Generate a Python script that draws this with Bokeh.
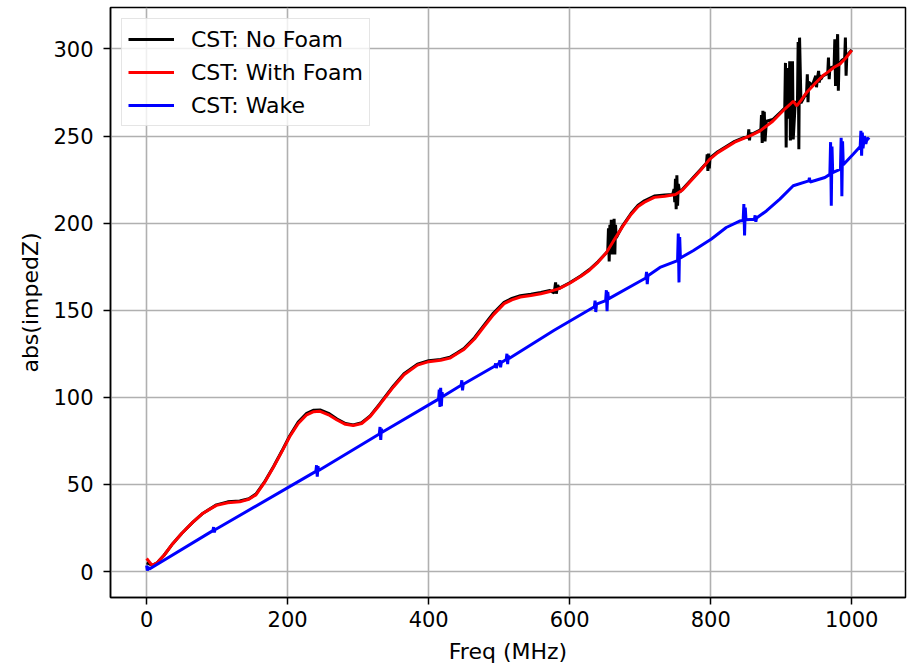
from bokeh.plotting import figure
from bokeh.models import Range1d, FixedTicker
from bokeh.embed import file_html
from bokeh.resources import INLINE

# ---------------- data ----------------
# CST: With Foam
foam_f = [0, 3, 8, 15, 25, 37, 50, 66, 80, 99, 115, 132, 145, 155, 167, 180, 192, 203,
          215, 227, 237, 246, 258, 270, 282, 293, 305, 317, 330, 350, 365, 384, 400, 417,
          430, 440, 450, 465, 478, 492, 507, 518, 530, 545, 559, 572, 585, 600, 616, 628,
          640, 652, 664, 675, 687, 697, 706, 720, 735, 750, 760, 772, 786, 798, 810, 822,
          834, 846, 858, 870, 888, 905, 912, 917, 922, 928, 936, 950, 959, 967, 975, 983,
          991, 1000]
foam_v = [7.5, 6, 3.5, 5, 9.5, 16, 22, 28.5, 33.5, 38, 39.5, 40, 41.5, 44, 51, 60, 69, 77.5,
          85, 90, 91.8, 92, 90, 87, 84.5, 83.8, 85, 89, 95.5, 106, 113, 118.5, 120.5, 121.3,
          122.5, 125, 127.5, 133.5, 140.4, 147.5, 153.8, 156, 157.6, 158.5, 159.5, 160.8, 162.4,
          165.5, 169.5, 173, 177.5, 183, 191, 198, 205, 209.5, 212, 214.8, 215.5, 216.5, 219,
          224.4, 230.5, 236.5, 240.5, 243.5, 246.5, 248.5, 250.5, 253, 258.5, 265.5, 268, 270,
          267.3, 270.5, 275, 281, 284.6, 287, 289.5, 291.3, 294.5, 299.2]

# CST: No Foam (same smooth trend, with resonance spikes) - rows of 10
nofoam_f = [0, 3, 8, 15, 25, 37, 50, 66, 80, 99,
            115, 132, 145, 155, 167, 180, 192, 203, 215, 227,
            237, 246, 258, 270, 282, 293, 305, 317, 330, 350,
            365, 384, 400, 417, 430, 440, 450, 465, 478, 492,
            507, 518, 530, 545, 559, 572, 578, 580, 581, 583,
            585, 600, 616, 628, 640, 652, 654, 655, 656, 657,
            658, 659, 660, 661, 662, 663, 664, 665, 666, 668,
            675, 687, 697, 706, 720, 735, 746, 748, 749, 750,
            751, 752, 753, 754, 756, 760, 772, 786, 794, 795,
            796, 797, 798, 799, 810, 822, 834, 846, 853, 854,
            855, 856, 858, 870, 871, 872, 873, 874, 875, 876,
            877, 879, 888, 900, 905, 906, 907, 908, 911, 912,
            913, 915, 916, 917, 920, 923, 924, 925, 926, 928,
            936, 937, 938, 939, 944, 949, 950, 951, 953, 954,
            955, 956, 959, 966, 967, 968, 969, 975, 976, 977,
            978, 980, 981, 982, 983, 986, 990, 991, 992, 993,
            996, 1000]
nofoam_v = [5, 4.5, 3.5, 5, 9.5, 16, 22, 28.5, 33.5, 38.3,
            40, 40.5, 41.8, 44.5, 51.3, 60.3, 69.3, 78, 85.8, 90.8,
            92.6, 92.8, 90.8, 87.6, 85, 84.2, 85.4, 89.4, 96, 106.5,
            113.6, 119, 121, 121.8, 123, 125.4, 128, 134.2, 141.2, 148.4,
            154.6, 156.8, 158.3, 159.2, 160.2, 161.3, 160, 166, 159.5, 164.5,
            162.6, 165.8, 169.8, 173.4, 177.8, 183, 184, 197, 178, 199,
            185, 202, 182, 200, 188, 202.5, 182, 199, 191.5, 193.2,
            198.5, 205.5, 210.3, 212.8, 215.6, 216.2, 216.4, 219.5, 212, 225.5,
            208, 227.5, 210, 222.5, 217.8, 219.5, 224.8, 231, 234.5, 239.5,
            230, 240, 231.5, 237.5, 241, 244, 247, 249, 249.5, 253.8,
            247.5, 251.5, 251, 253.5, 252.5, 262, 246, 264.5, 250, 264,
            247, 258.5, 259.5, 264, 266, 292, 243.5, 289, 260, 293,
            247.5, 266, 293, 248, 270, 268, 304, 242.5, 306.5, 269,
            275, 285.5, 269.5, 281, 279, 284.6, 278, 282, 287.4, 280.7,
            285, 282.5, 284.5, 286, 295, 282.7, 289, 290, 305.6, 278.8,
            291.5, 308.5, 276, 293, 291.3, 293.5, 294.5, 306.5, 284.6, 296,
            297.5, 299.5]

# CST: Wake
wake_f = [0, 1, 2, 4, 94, 95, 96, 97, 240, 241, 242, 243, 244, 330, 331, 332, 333, 334,
          414, 415, 416, 417, 418, 419, 420, 446, 447, 448, 449, 494, 495, 496, 497, 500,
          501, 502, 503, 510, 511, 512, 513, 514, 578, 635, 636, 637, 638, 651, 652, 653,
          654, 655, 699, 708, 709, 710, 711, 728, 753, 754, 755, 756, 757, 775, 801, 822,
          841, 846, 847, 848, 849, 850, 862, 863, 864, 865, 879, 898, 917, 939, 940, 941,
          962, 969, 970, 971, 972, 973, 984, 985, 986, 987, 988, 1002, 1012, 1013, 1014,
          1015, 1016, 1018, 1020, 1022, 1025]
wake_v = [3.5, 0.5, 2.5, 1.5, 23.5, 25.5, 22.5, 24, 57.5, 61, 54.5, 60.5, 58, 79, 83, 75.5,
          82, 80, 99, 104.5, 94.5, 105.5, 95, 103, 100.5, 107, 109.8, 104, 107.5, 118, 119.5,
          116.8, 118.8, 119.5, 121.3, 117.2, 120, 121.7, 125, 119, 124, 122.3, 138.5, 152,
          155.5, 149, 153.5, 155.5, 161.5, 149.5, 160.5, 156.5, 166.5, 168.5, 172, 165, 169.8,
          174.6, 178.5, 194, 166, 192, 180, 184.2, 190.9, 197.5, 201.2, 201.5, 211, 193, 209,
          202, 202.2, 204.5, 200.8, 203, 207, 213.8, 221.5, 224.3, 226, 223.6, 226.2, 228,
          246.5, 210, 244, 229, 231, 249, 215.5, 247, 233.5, 239.6, 244, 253, 238.7, 252, 243,
          250, 245.5, 249, 248]

assert len(foam_f) == len(foam_v)
assert len(nofoam_f) == len(nofoam_v)
assert len(wake_f) == len(wake_v)

x_ticks = [0, 200, 400, 600, 800, 1000]
y_ticks = [0, 50, 100, 150, 200, 250, 300]

FONT = "DejaVu Sans"
TICK_FS = "21px"
LABEL_FS = "22px"

p = figure(width=912, height=669, output_backend="svg", toolbar_location=None,
           x_range=Range1d(-51.25, 1076.25), y_range=Range1d(-14.9, 323.8),
           min_border_left=110, min_border_right=7, min_border_top=7, min_border_bottom=72)

p.background_fill_color = "white"
p.border_fill_color = "white"
p.outline_line_color = "black"
p.outline_line_width = 1.5

p.line(nofoam_f, nofoam_v, line_color="#000000", line_width=3, legend_label="CST: No Foam")
p.line(foam_f, foam_v, line_color="#ff0000", line_width=3, legend_label="CST: With Foam")
p.line(wake_f, wake_v, line_color="#0000ff", line_width=3, legend_label="CST: Wake")

p.xaxis.ticker = FixedTicker(ticks=x_ticks)
p.yaxis.ticker = FixedTicker(ticks=y_ticks)
p.xaxis.axis_label = "Freq (MHz)"
p.yaxis.axis_label = "abs(impedZ)"

for ax in (p.xaxis, p.yaxis):
    ax.axis_label_text_font = FONT
    ax.axis_label_text_font_size = LABEL_FS
    ax.axis_label_text_font_style = "normal"
    ax.axis_label_text_color = "#000000"
    ax.major_label_text_font = FONT
    ax.major_label_text_font_size = TICK_FS
    ax.major_label_text_color = "#000000"
    ax.minor_tick_line_color = None
    ax.major_tick_in = 0
    ax.major_tick_out = 7
    ax.major_tick_line_width = 1.5
    ax.axis_line_width = 1.5
    ax.axis_line_color = "black"

p.xaxis.major_label_standoff = 6
p.yaxis.major_label_standoff = 10
p.xaxis.axis_label_standoff = 9
p.yaxis.axis_label_standoff = 7

p.xgrid.ticker = FixedTicker(ticks=x_ticks)
p.ygrid.ticker = FixedTicker(ticks=y_ticks)
for g in (p.xgrid, p.ygrid):
    g.grid_line_color = "#b0b0b0"
    g.grid_line_width = 1.6

lg = p.legend[0]
lg.location = "top_left"
lg.margin = 11
lg.padding = 6
lg.spacing = 5
lg.glyph_width = 46
lg.glyph_height = 28
lg.label_height = 28
lg.label_standoff = 17
lg.label_text_font = FONT
lg.label_text_font_size = LABEL_FS
lg.label_text_color = "#000000"
lg.border_line_color = "#cccccc"
lg.border_line_width = 1
lg.background_fill_color = "white"
lg.background_fill_alpha = 0.8

open("out.html", "w").write(file_html(p, INLINE))
